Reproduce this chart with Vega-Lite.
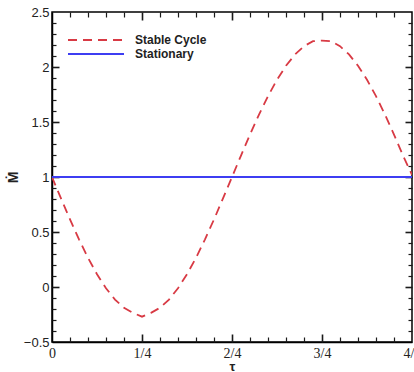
{
  "$schema": "https://vega.github.io/schema/vega-lite/v6.json",
  "autosize": {"type": "none"},
  "padding": {"left": 52, "top": 12, "right": 2, "bottom": 30},
  "width": 360,
  "height": 330,
  "background": "white",
  "config": {
    "view": {"stroke": "black", "strokeWidth": 1.5},
    "axis": {"grid": false, "domainColor": "black", "labelColor": "#222", "titleColor": "#222"}
  },
  "data": {"values": [
    {"tau": 0, "M": 1.0, "series": "Stable Cycle"},
    {"tau": 0.025, "M": 0.805, "series": "Stable Cycle"},
    {"tau": 0.05, "M": 0.614, "series": "Stable Cycle"},
    {"tau": 0.075, "M": 0.433, "series": "Stable Cycle"},
    {"tau": 0.1, "M": 0.265, "series": "Stable Cycle"},
    {"tau": 0.125, "M": 0.116, "series": "Stable Cycle"},
    {"tau": 0.15, "M": -0.011, "series": "Stable Cycle"},
    {"tau": 0.175, "M": -0.114, "series": "Stable Cycle"},
    {"tau": 0.2, "M": -0.189, "series": "Stable Cycle"},
    {"tau": 0.225, "M": -0.235, "series": "Stable Cycle"},
    {"tau": 0.25, "M": -0.27, "series": "Stable Cycle"},
    {"tau": 0.275, "M": -0.235, "series": "Stable Cycle"},
    {"tau": 0.3, "M": -0.189, "series": "Stable Cycle"},
    {"tau": 0.325, "M": -0.114, "series": "Stable Cycle"},
    {"tau": 0.35, "M": -0.011, "series": "Stable Cycle"},
    {"tau": 0.375, "M": 0.116, "series": "Stable Cycle"},
    {"tau": 0.4, "M": 0.265, "series": "Stable Cycle"},
    {"tau": 0.425, "M": 0.433, "series": "Stable Cycle"},
    {"tau": 0.45, "M": 0.614, "series": "Stable Cycle"},
    {"tau": 0.475, "M": 0.805, "series": "Stable Cycle"},
    {"tau": 0.5, "M": 1.0, "series": "Stable Cycle"},
    {"tau": 0.525, "M": 1.195, "series": "Stable Cycle"},
    {"tau": 0.55, "M": 1.386, "series": "Stable Cycle"},
    {"tau": 0.575, "M": 1.567, "series": "Stable Cycle"},
    {"tau": 0.6, "M": 1.735, "series": "Stable Cycle"},
    {"tau": 0.625, "M": 1.884, "series": "Stable Cycle"},
    {"tau": 0.65, "M": 2.011, "series": "Stable Cycle"},
    {"tau": 0.675, "M": 2.114, "series": "Stable Cycle"},
    {"tau": 0.7, "M": 2.189, "series": "Stable Cycle"},
    {"tau": 0.725, "M": 2.235, "series": "Stable Cycle"},
    {"tau": 0.75, "M": 2.24, "series": "Stable Cycle"},
    {"tau": 0.775, "M": 2.235, "series": "Stable Cycle"},
    {"tau": 0.8, "M": 2.189, "series": "Stable Cycle"},
    {"tau": 0.825, "M": 2.114, "series": "Stable Cycle"},
    {"tau": 0.85, "M": 2.011, "series": "Stable Cycle"},
    {"tau": 0.875, "M": 1.884, "series": "Stable Cycle"},
    {"tau": 0.9, "M": 1.735, "series": "Stable Cycle"},
    {"tau": 0.925, "M": 1.567, "series": "Stable Cycle"},
    {"tau": 0.95, "M": 1.386, "series": "Stable Cycle"},
    {"tau": 0.975, "M": 1.195, "series": "Stable Cycle"},
    {"tau": 1.0, "M": 1.02, "series": "Stable Cycle"},
    {"tau": 0, "M": 1.0, "series": "Stationary"},
    {"tau": 1.0, "M": 1.0, "series": "Stationary"}
  ]},
  "resolve": {"axis": {"x": "independent", "y": "independent"}},
  "layer": [
    {
      "mark": {"type": "line", "strokeWidth": 1.8, "clip": true},
      "encoding": {
        "x": {"field": "tau", "type": "quantitative", "scale": {"domain": [0, 1], "nice": false, "zero": false},
          "axis": {"orient": "bottom", "values": [0, 0.25, 0.5, 0.75, 1], "tickSize": 0, "domainWidth": 1.5,
            "labelExpr": "datum.value == 0 ? '0' : format(datum.value*4, 'd') + '/4'",
            "labelFont": "Liberation Serif", "labelFontSize": 14, "labelPadding": 4, "labelFlush": false,
            "title": "τ", "titleFont": "Liberation Sans", "titleFontSize": 13, "titleFontWeight": "bold", "titlePadding": 0}},
        "y": {"field": "M", "type": "quantitative", "scale": {"domain": [-0.5, 2.5], "nice": false, "zero": false},
          "axis": {"orient": "left", "values": [-0.5, 0, 0.5, 1, 1.5, 2, 2.5], "tickSize": 0, "domainWidth": 1.5, "format": "~g",
            "labelFont": "Liberation Sans", "labelFontSize": 13, "labelPadding": 3, "labelFlush": false,
            "title": "Ṁ", "titleFont": "Liberation Sans", "titleFontSize": 14, "titleFontWeight": "bold", "titlePadding": 3}},
        "color": {"field": "series", "type": "nominal",
          "scale": {"domain": ["Stable Cycle", "Stationary"], "range": ["#d83a44", "#3d3df2"]},
          "legend": {"orient": "none", "legendX": 36, "legendY": 20, "title": null, "symbolType": "M-4,0H4",
            "symbolSize": 196, "symbolStrokeWidth": 2, "labelFont": "Liberation Sans", "labelFontSize": 12,
            "labelFontWeight": "bold", "labelColor": "#222", "labelOffset": 31, "rowPadding": 0}},
        "strokeDash": {"field": "series", "type": "nominal",
          "scale": {"domain": ["Stable Cycle", "Stationary"], "range": [[9, 6], [1, 0]]},
          "legend": null}
      }
    },
    {
      "mark": {"type": "point", "opacity": 0},
      "encoding": {
        "x": {"field": "tau", "type": "quantitative",
          "axis": {"orient": "top", "offset": -330, "values": [0.25, 0.5, 0.75],
            "tickSize": 8, "tickWidth": 1.6, "tickColor": "#1a1a1a", "labels": true, "labelOpacity": 0, "domain": false, "title": "τ", "titleOpacity": 0}},
        "y": {"field": "M", "type": "quantitative",
          "axis": {"orient": "right", "offset": -360, "values": [0, 0.5, 1, 1.5, 2],
            "tickSize": 7, "tickWidth": 1.6, "tickColor": "#1a1a1a", "labels": true, "labelOpacity": 0, "domain": false, "title": "Ṁ", "titleOpacity": 0}}
      }
    },
    {
      "mark": {"type": "point", "opacity": 0},
      "encoding": {
        "x": {"field": "tau", "type": "quantitative",
          "axis": {"orient": "top", "offset": -330, "values": [0.05,0.1,0.15,0.2,0.3,0.35,0.4,0.45,0.55,0.6,0.65,0.7,0.8,0.85,0.9,0.95],
            "tickSize": 5, "tickWidth": 1.2, "tickColor": "#1a1a1a", "labels": true, "labelOpacity": 0, "domain": false, "title": "τ", "titleOpacity": 0}},
        "y": {"field": "M", "type": "quantitative",
          "axis": {"orient": "right", "offset": -360, "values": [-0.4,-0.3,-0.2,-0.1,0.1,0.2,0.3,0.4,0.6,0.7,0.8,0.9,1.1,1.2,1.3,1.4,1.6,1.7,1.8,1.9,2.1,2.2,2.3,2.4],
            "tickSize": 4, "tickWidth": 1.2, "tickColor": "#1a1a1a", "labels": true, "labelOpacity": 0, "domain": false, "title": "Ṁ", "titleOpacity": 0}}
      }
    },
    {
      "mark": {"type": "point", "opacity": 0},
      "encoding": {
        "x": {"field": "tau", "type": "quantitative",
          "axis": {"orient": "bottom", "offset": -330, "values": [0.25, 0.5, 0.75],
            "tickSize": 8, "tickWidth": 1.6, "tickColor": "#1a1a1a", "labels": true, "labelOpacity": 0, "domain": false, "title": "τ", "titleOpacity": 0}},
        "y": {"field": "M", "type": "quantitative",
          "axis": {"orient": "left", "offset": -360, "values": [0, 0.5, 1, 1.5, 2],
            "tickSize": 7, "tickWidth": 1.6, "tickColor": "#1a1a1a", "labels": true, "labelOpacity": 0, "domain": false, "title": "Ṁ", "titleOpacity": 0}}
      }
    },
    {
      "mark": {"type": "point", "opacity": 0},
      "encoding": {
        "x": {"field": "tau", "type": "quantitative",
          "axis": {"orient": "bottom", "offset": -330, "values": [0.05,0.1,0.15,0.2,0.3,0.35,0.4,0.45,0.55,0.6,0.65,0.7,0.8,0.85,0.9,0.95],
            "tickSize": 5, "tickWidth": 1.2, "tickColor": "#1a1a1a", "labels": true, "labelOpacity": 0, "domain": false, "title": "τ", "titleOpacity": 0}},
        "y": {"field": "M", "type": "quantitative",
          "axis": {"orient": "left", "offset": -360, "values": [-0.4,-0.3,-0.2,-0.1,0.1,0.2,0.3,0.4,0.6,0.7,0.8,0.9,1.1,1.2,1.3,1.4,1.6,1.7,1.8,1.9,2.1,2.2,2.3,2.4],
            "tickSize": 4, "tickWidth": 1.2, "tickColor": "#1a1a1a", "labels": true, "labelOpacity": 0, "domain": false, "title": "Ṁ", "titleOpacity": 0}}
      }
    }
  ]
}
